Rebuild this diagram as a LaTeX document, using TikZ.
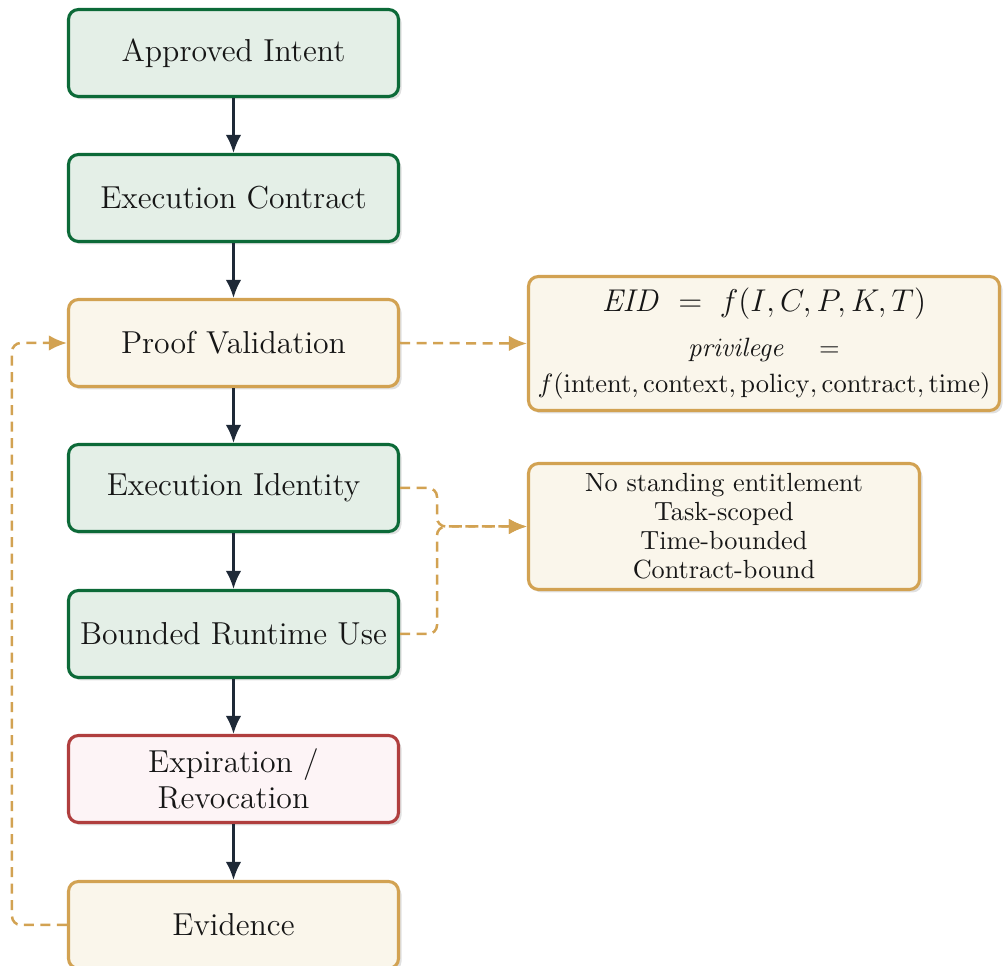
\RequirePackage{fix-cm}
\documentclass[tikz,border=0pt]{standalone}
\usetikzlibrary{arrows.meta,shadows,calc}
\definecolor{grnline}{RGB}{12,106,56}
\definecolor{grnfill}{RGB}{228,239,231}
\definecolor{goldline}{RGB}{210,162,82}
\definecolor{goldfill}{RGB}{250,246,235}
\definecolor{redline}{RGB}{176,62,62}
\definecolor{redfill}{RGB}{253,244,246}
\definecolor{flowink}{RGB}{30,41,55}
\definecolor{textink}{RGB}{22,22,22}
\tikzset{
  box/.style={rectangle, rounded corners=4pt, line width=1.25pt,
    minimum width=132pt, minimum height=34.8pt, align=center,
    text=textink, font=\fontsize{12.7}{14.4}\selectfont,
    drop shadow={shadow xshift=1.2pt, shadow yshift=-1.2pt, opacity=0.12, fill=black}},
  stage/.style={box, draw=grnline, fill=grnfill},
  check/.style={box, draw=goldline, fill=goldfill},
  ending/.style={box, draw=redline, fill=redfill},
  note/.style={box, draw=goldline, fill=goldfill},
  flow/.style={-{Latex[length=7.2pt,width=6.2pt]}, line width=1pt, draw=flowink},
  link/.style={line width=1pt, draw=goldline, dash pattern=on 4pt off 2.6pt, rounded corners=3.5pt},
  linkarrow/.style={link, -{Latex[length=7.2pt,width=6.2pt]}}
}
\begin{document}
\begin{tikzpicture}[x=0.4pt, y=-0.4pt]
\useasboundingbox (0,0) rectangle (1003,966);

% main pipeline
\node[stage]  (intent)   at (233.5,53)  {Approved Intent};
\node[stage]  (contract) at (233.5,198) {Execution Contract};
\node[check]  (proof)    at (233.5,343) {Proof Validation};
\node[stage]  (ident)    at (233.5,488) {Execution Identity};
\node[stage]  (runtime)  at (233.5,634) {Bounded Runtime Use};
\node[ending] (expire)   at (233.5,779) {Expiration /\\Revocation};
\node[check]  (evid)     at (233.5,925) {Evidence};

% side notes
\node[note, inner xsep=1pt, minimum width=188.4pt, minimum height=53.6pt] (formula) at (764,343.5)
  {{\fontsize{12.6}{14.4}\selectfont $\mathit{EID} \;=\; f(I,C,P,K,T)$}\\[3.5pt]
   {\fontsize{10.6}{12.5}\selectfont $\mathit{privilege}\quad=$}\\[0pt]
   {\fontsize{10.6}{12.5}\selectfont $f(\mathrm{intent},\mathrm{context},\mathrm{policy},\mathrm{contract},\mathrm{time})$}};
\node[note, minimum width=156.4pt, minimum height=50.4pt,
      font=\fontsize{10.5}{11.6}\selectfont] (props) at (724,526.5)
  {No standing entitlement\\Task-scoped\\Time-bounded\\Contract-bound};

% pipeline arrows
\draw[flow] (intent)   -- (contract);
\draw[flow] (contract) -- (proof);
\draw[flow] (proof)    -- (ident);
\draw[flow] (ident)    -- (runtime);
\draw[flow] (runtime)  -- (expire);
\draw[flow] (expire)   -- (evid);

% dashed links
\coordinate (merge) at (437,526.5);
\coordinate (loop)  at (12,0);
\draw[linkarrow] (proof.east) -- (formula.west);
\draw[linkarrow] (ident.east) -| (merge) -- (props.west);
\draw[linkarrow] (runtime.east) -| (merge) -- (props.west);
\draw[linkarrow] (evid.west) -- (evid.west -| loop) -- (proof.west -| loop) -- (proof.west);
\end{tikzpicture}
\end{document}
